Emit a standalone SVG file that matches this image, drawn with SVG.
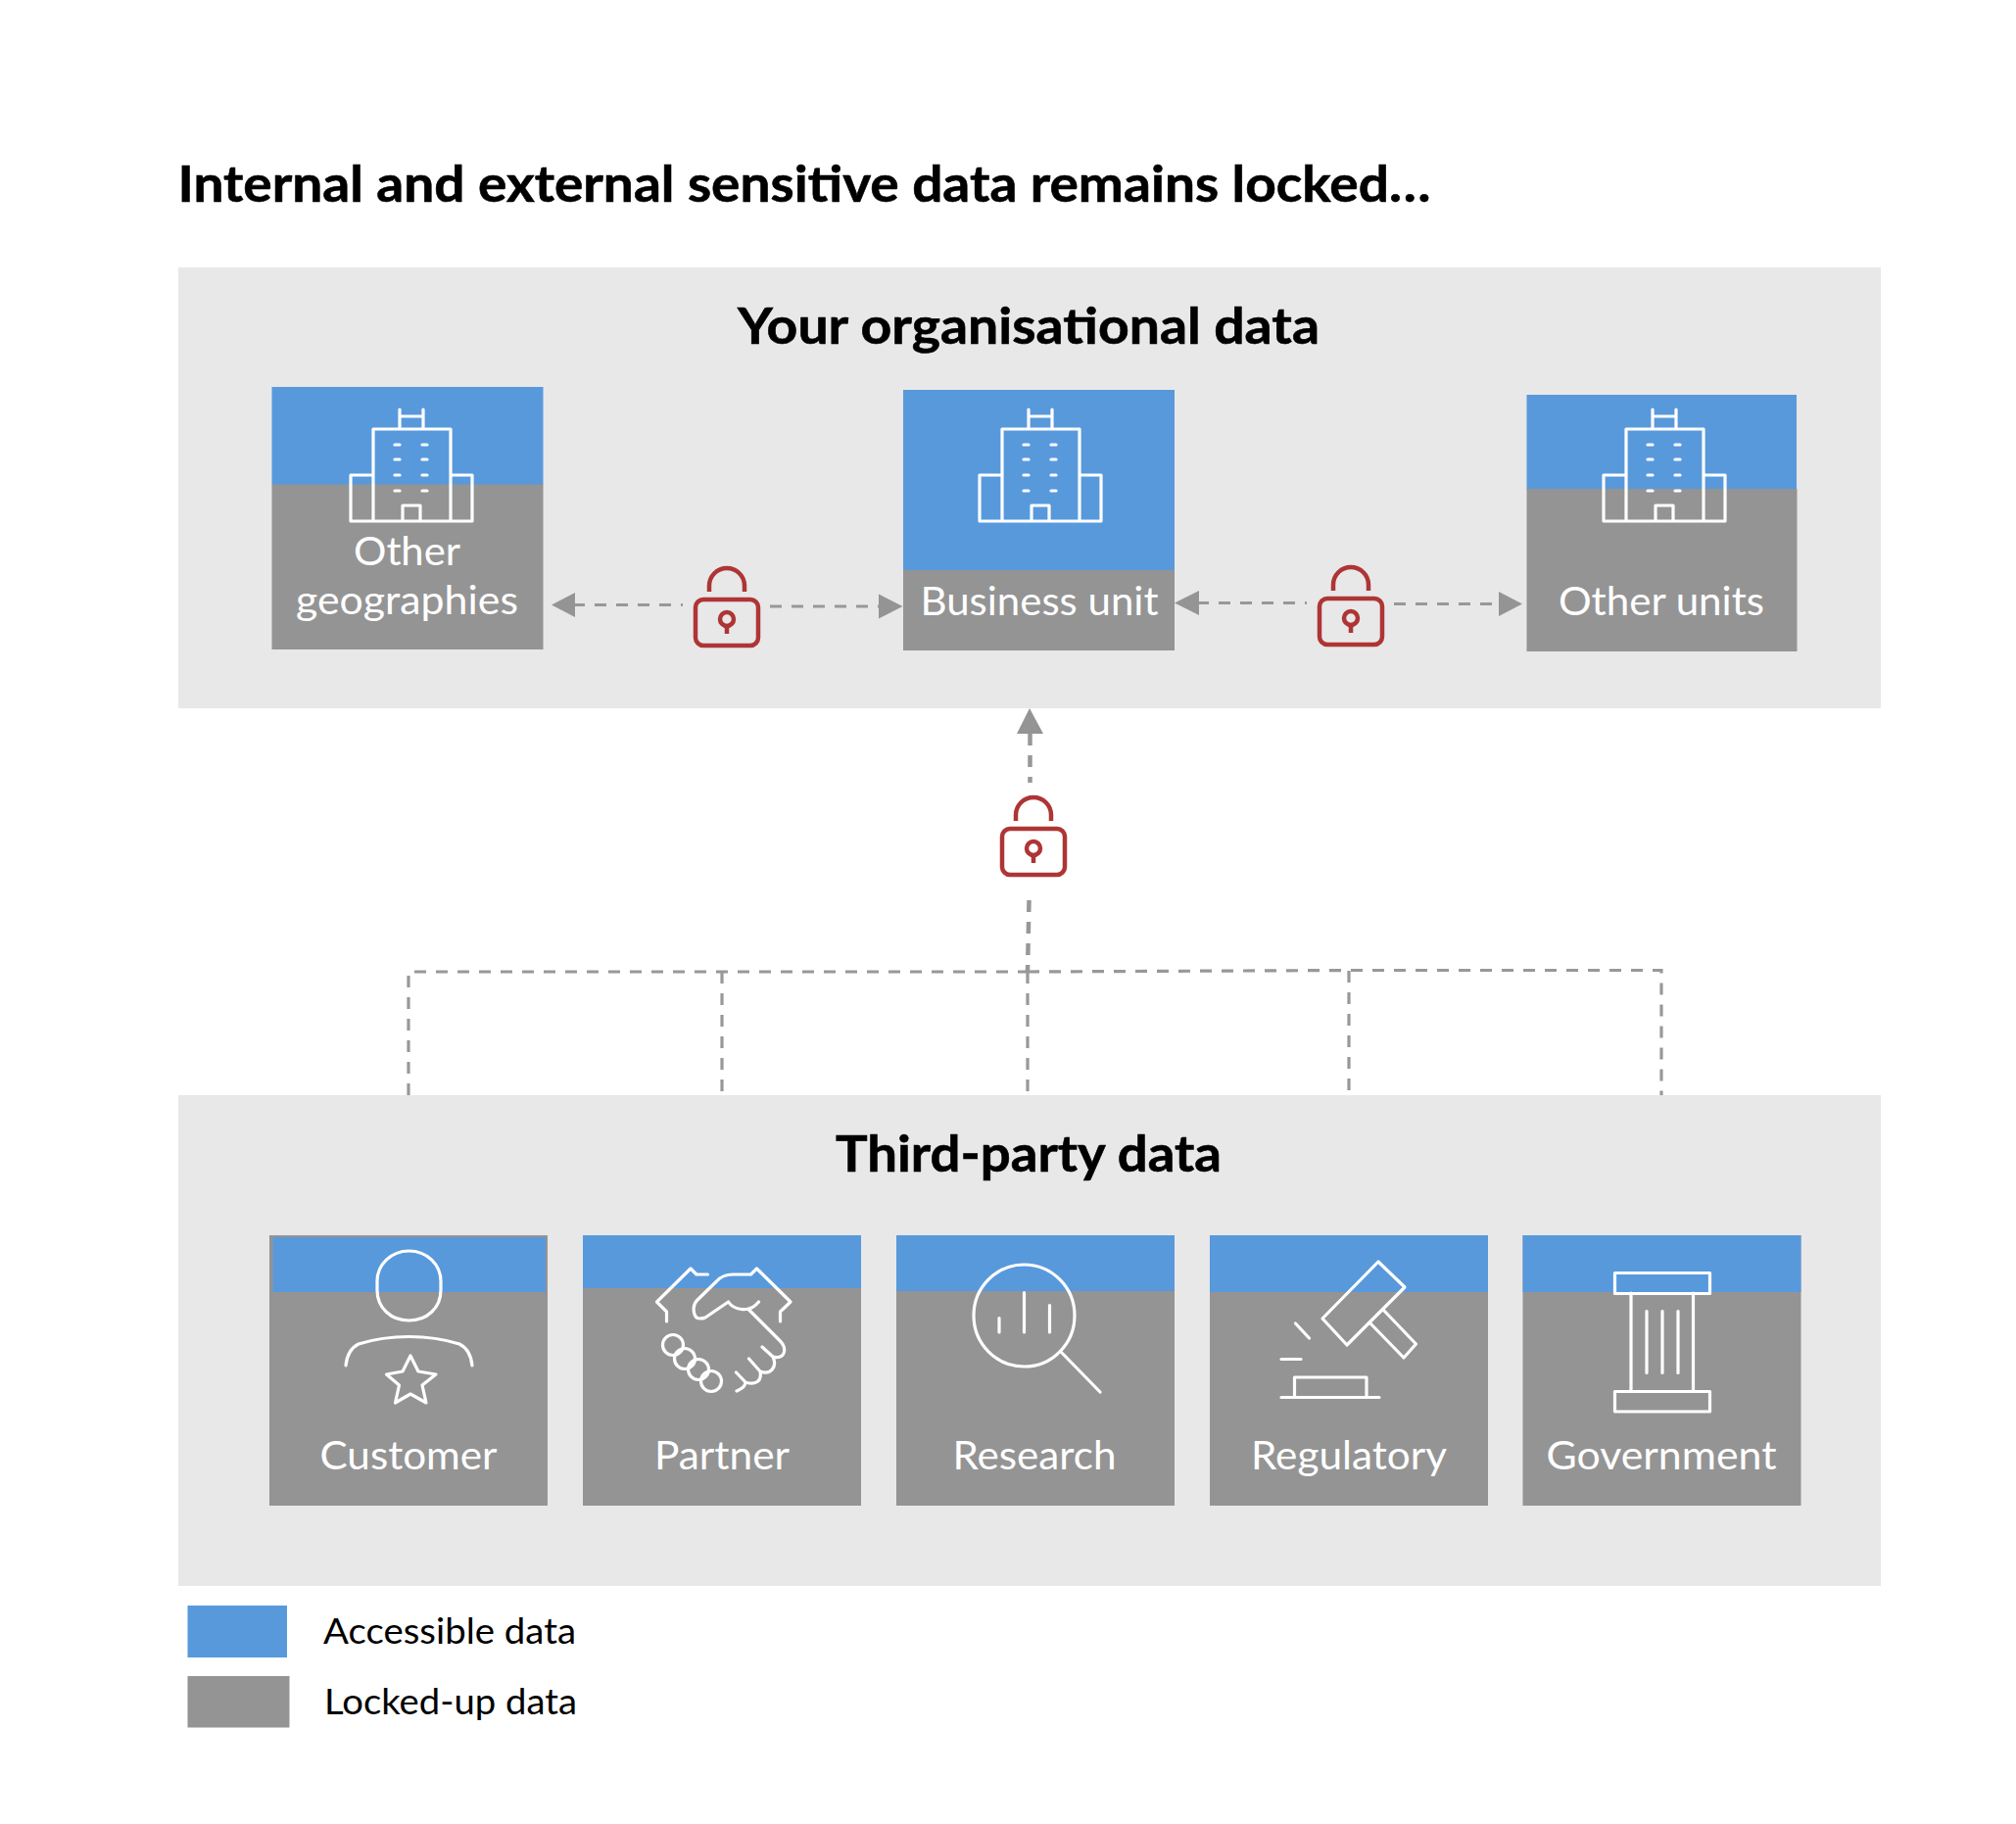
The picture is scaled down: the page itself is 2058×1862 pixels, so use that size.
<svg xmlns="http://www.w3.org/2000/svg" xmlns:xlink="http://www.w3.org/1999/xlink" width="2058" height="1862" viewBox="0 0 2058 1862">
<style>
text{font-family:Lato,"Liberation Sans",sans-serif}
.h{font-weight:700;fill:#000;font-size:51px;stroke:#000;stroke-width:.6px}
.l{fill:#fff;font-size:40px;text-anchor:middle}
.k{fill:#000;font-size:37px}
.panel{fill:#e8e8e8}
.blue{fill:#5899dc}
.gray{fill:#949494}
.ic{fill:none;stroke:#fff;stroke-width:3.2;stroke-linecap:round;stroke-linejoin:round}
.dash{fill:none;stroke:#989898;stroke-width:3.2;stroke-dasharray:12 10}
.thick{stroke-width:4.500}
.head{fill:#949494}
.lock{fill:none;stroke:#ae3535;stroke-width:4.500}
</style>
<defs>
<g id="building" class="ic">
<path d="M358 532V485H381M460 485H482V532H358M381 532V438H460V532M411 532V516H429V532M408 438V418M432 438V418M408 425H432"/>
<path d="M403 454H408M431 454H436M403 469H408M431 469H436M403 485H408M431 485H436M403 501H408M431 501H436"/>
</g>
<g id="lockicon" class="lock">
<rect x="1023" y="846" width="64" height="47" rx="8"/>
<path d="M1037 838V832A18 18 0 0 1 1073 832V838"/>
<circle cx="1055" cy="866" r="7"/>
<path d="M1055 873V881"/>
</g>
</defs>
<rect width="2058" height="1862" fill="#fff"/>
<text id="title" class="h" x="181.500" y="206" textLength="1279" lengthAdjust="spacingAndGlyphs">Internal and external sensitive data remains locked…</text>

<g id="panel-org">
<rect class="panel" x="182" y="273" width="1738" height="450"/>
<text class="h" x="753" y="351" textLength="594" lengthAdjust="spacingAndGlyphs">Your organisational data</text>
</g>
<g id="panel-third">
<rect class="panel" x="182" y="1118" width="1738" height="501"/>
<text class="h" x="853" y="1196" textLength="394" lengthAdjust="spacingAndGlyphs">Third-party data</text>
</g>

<g id="connectors">
<path class="dash" d="M585 617.500H697"/>
<path class="head" d="M563 617.500L587 605V630Z"/>
<path class="dash" d="M786 619H897"/>
<path class="head" d="M921.500 619L897 606.500V631.500Z"/>
<path class="dash" d="M1222 615.500H1334"/>
<path class="head" d="M1199 615.500L1224 603V628Z"/>
<path class="dash" d="M1423 616.500H1530"/>
<path class="head" d="M1554 616.500L1530 604V629Z"/>
<path class="dash thick" d="M1051.500 749V799"/>
<path class="head" d="M1051 723L1065 749H1038Z"/>
<path class="dash thick" d="M1050.500 919L1049 992"/>
<path class="dash" d="M417 1118V992H1049"/>
<path class="dash" d="M1049 992L1377 990.500H1696V1118"/>
<path class="dash" d="M737 992V1118"/>
<path class="dash" d="M1049 992V1118"/>
<path class="dash" d="M1377 991V1118"/>
</g>

<g id="lock-1"><use xlink:href="#lockicon" href="#lockicon" transform="translate(-313 -234)"/></g>
<g id="lock-2"><use xlink:href="#lockicon" href="#lockicon" transform="translate(324 -235)"/></g>
<g id="lock-3"><use xlink:href="#lockicon" href="#lockicon"/></g>

<g id="node-other-geographies">
<rect class="blue" x="277.500" y="395" width="277" height="100"/>
<rect class="gray" x="277.500" y="494.500" width="277" height="168.500"/>
<use xlink:href="#building" href="#building"/>
<text class="l" x="415.500" y="577" textLength="109" lengthAdjust="spacingAndGlyphs">Other</text>
<text class="l" x="415.500" y="627" textLength="227" lengthAdjust="spacingAndGlyphs">geographies</text>
</g>
<g id="node-business-unit">
<rect class="blue" x="922" y="398" width="277" height="185"/>
<rect class="gray" x="922" y="582" width="277" height="82"/>
<use xlink:href="#building" href="#building" transform="translate(642 0)"/>
<text class="l" x="1061" y="628" textLength="243" lengthAdjust="spacingAndGlyphs">Business unit</text>
</g>
<g id="node-other-units">
<rect class="blue" x="1558.500" y="403" width="275.500" height="97"/>
<rect class="gray" x="1558.500" y="499" width="276" height="166"/>
<use xlink:href="#building" href="#building" transform="translate(1279 0)"/>
<text class="l" x="1696" y="628" textLength="210" lengthAdjust="spacingAndGlyphs">Other units</text>
</g>

<g id="node-customer">
<rect class="gray" x="275" y="1261" width="284" height="276"/>
<rect class="blue" x="278.500" y="1263" width="278.500" height="56"/>
<g class="ic">
<path d="M385 1312V1308C385 1291 399 1277 417.500 1277C436 1277 450 1291 450 1308V1317C450 1335 436 1348 417.500 1348C399 1348 385 1335 385 1317Z"/>
<path d="M353 1394C354 1384 358 1376 366 1372C398 1362 437 1362 469 1372C477 1376 481 1384 482 1394"/>
<path d="M419 1384L427 1400L445 1403L431 1414L435 1432L419 1423L403.500 1432L407.500 1414L394.500 1403L411 1400Z"/>
</g>
<text class="l" x="417" y="1500" textLength="181" lengthAdjust="spacingAndGlyphs">Customer</text>
</g>
<g id="node-partner">
<rect class="gray" x="595" y="1261" width="284" height="276"/>
<rect class="blue" x="595" y="1261" width="284" height="54"/>
<g class="ic">
<path d="M680.500 1349V1339L670.500 1329L705 1295L711 1301H722.500"/>
<path d="M796.500 1349V1339L807 1329L772.500 1295L766.500 1301H748C741 1301 735 1304 731.500 1308L711 1328C706 1334 708 1346 714 1346C716 1346 718 1346 720 1345L743.500 1329C748 1336 764 1342 774.500 1329"/>
<path d="M764.500 1337L795.500 1368C804 1376 802 1388 789 1385L778 1375M789 1385C794 1396 786 1404 776 1400L764.500 1387M776 1400C778 1411 770 1414 761 1411L751.500 1401M761 1411C761 1415 757 1418 752 1420"/>
<circle cx="687" cy="1373" r="10.500"/>
<circle cx="699" cy="1387" r="10.500"/>
<circle cx="713" cy="1398" r="10.500"/>
<circle cx="726" cy="1410" r="10.500"/>
</g>
<text class="l" x="737" y="1500" textLength="138" lengthAdjust="spacingAndGlyphs">Partner</text>
</g>
<g id="node-research">
<rect class="gray" x="915" y="1261" width="284" height="276"/>
<rect class="blue" x="915" y="1261" width="284" height="57"/>
<g class="ic">
<ellipse cx="1045.500" cy="1343" rx="51.500" ry="52"/>
<path d="M1084 1381L1123 1421M1020 1345.500V1360M1045.500 1319.500V1360M1071.500 1332.500V1360"/>
</g>
<text class="l" x="1056" y="1500" textLength="167" lengthAdjust="spacingAndGlyphs">Research</text>
</g>
<g id="node-regulatory">
<rect class="gray" x="1235" y="1261" width="284" height="276"/>
<rect class="blue" x="1235" y="1261" width="284" height="58"/>
<g class="ic">
<path d="M1407 1288L1434 1314L1375 1373L1350 1346Z"/>
<path d="M1412 1337L1445.500 1372L1433 1386L1399 1351"/>
<path d="M1322.500 1351L1336.500 1366M1308 1387.500H1328M1308 1426.500H1408M1321.500 1426V1406H1395V1426"/>
</g>
<text class="l" x="1377" y="1500" textLength="200" lengthAdjust="spacingAndGlyphs">Regulatory</text>
</g>
<g id="node-government">
<rect class="gray" x="1554.500" y="1261" width="284" height="276"/>
<rect class="blue" x="1554.500" y="1261" width="284" height="58"/>
<g class="ic">
<rect x="1648.500" y="1299.500" width="97" height="21"/>
<rect x="1648.500" y="1420.500" width="97" height="20.500"/>
<path d="M1665 1320V1420.500M1728.500 1320V1420.500M1681 1338.500V1401.500M1697 1338.500V1401.500M1713 1338.500V1401.500"/>
</g>
<text class="l" x="1696" y="1500" textLength="235" lengthAdjust="spacingAndGlyphs">Government</text>
</g>

<g id="legend-accessible">
<rect class="blue" x="191.500" y="1639" width="101.500" height="53"/>
<text class="k" x="330" y="1678" textLength="258" lengthAdjust="spacingAndGlyphs">Accessible data</text>
</g>
<g id="legend-locked">
<rect class="gray" x="191.500" y="1711" width="104" height="52.500"/>
<text class="k" x="331" y="1750" textLength="258" lengthAdjust="spacingAndGlyphs">Locked-up data</text>
</g>
</svg>
